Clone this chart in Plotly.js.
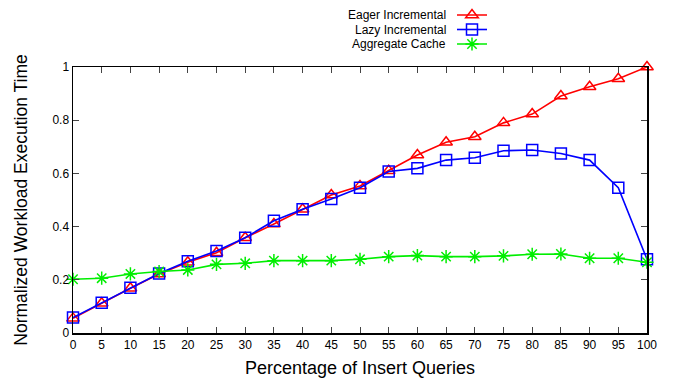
<!DOCTYPE html>
<html>
<head>
<meta charset="utf-8">
<script src="https://cdn.plot.ly/plotly-3.0.1.min.js"></script>
<style>html,body{margin:0;padding:0;background:#fff;}</style>
</head>
<body>
<div id="chart" style="width:673px;height:378px;"></div>
<script>
const insertPct = [0,5,10,15,20,25,30,35,40,45,50,55,60,65,70,75,80,85,90,95,100];
const eagerIncremental = [0.055,0.112,0.168,0.222,0.266,0.302,0.358,0.41,0.465,0.519,0.553,0.61,0.669,0.717,0.738,0.79,0.823,0.891,0.926,0.956,1.0];
const lazyIncremental  = [0.058,0.114,0.17,0.224,0.27,0.308,0.358,0.422,0.465,0.504,0.546,0.607,0.619,0.65,0.659,0.685,0.688,0.675,0.65,0.546,0.277];
const aggregateCache   = [0.202,0.206,0.222,0.231,0.237,0.258,0.262,0.272,0.272,0.272,0.277,0.287,0.291,0.287,0.287,0.29,0.296,0.297,0.281,0.281,0.266];
const seriesNames = ["Eager Incremental","Lazy Incremental","Aggregate Cache"];
const yTickVals = [0,0.2,0.4,0.6,0.8,1];
const yTickText = ["0","0.2","0.4","0.6","0.8","1"];

const font = "Liberation Sans, Arial, sans-serif";
const legendIds = ['legend','legend2','legend3'];
function tr(y, color, symbol, size, i){
  return {x: insertPct, y: y, type:'scatter', mode:'lines+markers', name:' ',
    legend: legendIds[i],
    line:{color:color, width:1.6},
    marker:{symbol:symbol, size:size, color:color, line:{color:color, width:1.5}},
    cliponaxis:false};
}
const data = [
  tr(eagerIncremental,'#ff0000','triangle-up-open',11,0),
  tr(lazyIncremental,'#0000ff','square-open',11,1),
  tr(aggregateCache,'#00ee00','asterisk-open',11,2)
];
// paper helpers (plot area: x 73..647, y 67..333)
const px = p => (p-73)/574;
const py = p => (333-p)/266;
const legendRowsPx = [15,29.5,44];
const layout = {
  width:673, height:378,
  margin:{l:73, r:26, t:67, b:45, autoexpand:false},
  paper_bgcolor:'#fff', plot_bgcolor:'#fff',
  font:{family:font, size:12, color:'#000'},
  showlegend:true,
  xaxis:{range:[0,100], tickvals:insertPct, ticks:'inside', ticklen:6, mirror:'ticks',
    showline:true, linecolor:'#000', linewidth:1.5, showgrid:false, zeroline:false,
    tickfont:{size:12}, title:{text:'Percentage of Insert Queries', font:{size:18}, standoff:10}},
  yaxis:{range:[0,1], tickvals:yTickVals, ticktext:yTickText, ticks:'inside', ticklen:6, mirror:'ticks',
    showline:true, linecolor:'#000', linewidth:1.5, showgrid:false, zeroline:false,
    tickfont:{size:12}, title:{text:'Normalized Workload Execution Time', font:{size:17.5}, standoff:20}},
  annotations: seriesNames.map((n,i)=>({text:n, xref:'paper', yref:'paper', x:px(448), xanchor:'right',
    y:py(legendRowsPx[i]), yanchor:'middle', showarrow:false, font:{size:12}}))
};
legendIds.forEach((id,i)=>{
  layout[id] = {x:px(452), xanchor:'left', y:py(legendRowsPx[i]), yanchor:'middle',
    bgcolor:'rgba(0,0,0,0)', font:{size:10}, itemwidth:30};
});
Plotly.newPlot('chart', data, layout, {displayModeBar:false, staticPlot:true});
</script>
</body>
</html>
